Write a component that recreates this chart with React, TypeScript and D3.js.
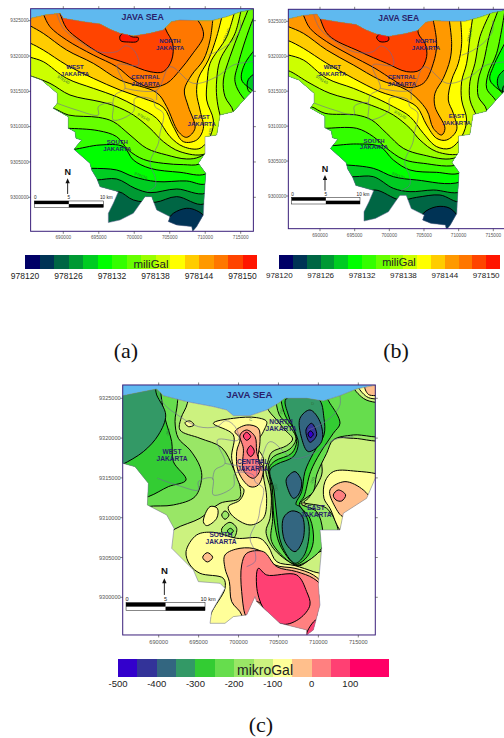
import React from 'react';
import * as d3 from 'd3';

type Pt = [number, number];

// colour ramps, lowest value first
const miliGalColors = ['#000066', '#003355', '#006644', '#009933', '#00cc22', '#00ff00', '#33ff00', '#66ff00', '#99ff00', '#ccff00', '#ffff00', '#ffcc00', '#ff9900', '#ff7700', '#ff4400', '#ff1500'];
const miliGalValues = d3.range(978120, 978152, 2);
const miliGalTicks = [978120, 978126, 978132, 978138, 978144, 978150];
const mikroGalColors = ['#3300cc', '#333399', '#336680', '#339966', '#33cc33', '#66dd4d', '#99e666', '#ccf27f', '#ffff99', '#ffbf8c', '#ff8080', '#ff4073', '#ff0066', '#ff0066'];
const mikroGalValues = d3.range(-500, 200, 50);
const mikroGalTicks = [-500, -400, -300, -200, -100, 0, 100];

const eastings = [690000, 695000, 700000, 705000, 710000, 715000];
const northings = [9325000, 9320000, 9315000, 9310000, 9305000, 9300000];

// All outlines below are readings off the printed maps, in sheet units (3 per page pixel).
const coastA: Pt[] = [[60, 58], [92, 55], [135, 45], [180, 40], [190, 55], [250, 65], [300, 72], [330, 88], [360, 100], [400, 108], [450, 100], [490, 90], [515, 65], [540, 60], [590, 62], [635, 62], [680, 50], [720, 36], [800, 20]];
const southA: Pt[] = [[800, 270], [760, 270], [740, 290], [700, 335], [660, 345], [650, 405], [615, 410], [615, 460], [595, 490], [617, 520], [612, 600], [610, 645], [590, 680], [578, 694], [575, 680], [530, 675], [505, 665], [510, 650], [470, 630], [455, 590], [435, 590], [400, 640], [360, 660], [325, 668], [325, 640], [340, 610], [355, 575], [300, 560], [290, 535], [275, 510], [270, 490], [222, 448], [245, 420], [228, 415], [225, 395], [205, 385], [205, 350], [160, 325], [172, 310], [172, 280], [125, 240], [92, 228], [60, 222]];
const districtsA: Pt[][] = [
  [[170, 40], [190, 85], [240, 125], [295, 155], [350, 155], [378, 137], [405, 155], [415, 195], [352, 195], [375, 265], [345, 285], [338, 315]],
  [[172, 310], [230, 330], [295, 345], [295, 320], [338, 310], [340, 360], [400, 335], [405, 295], [460, 300], [465, 320], [490, 340], [480, 400], [475, 430], [450, 490], [465, 530], [465, 560], [440, 575]],
  [[375, 265], [470, 270], [510, 200], [580, 250], [650, 230], [700, 195], [760, 185]],
  [[470, 270], [470, 300]],
  [[625, 165], [660, 150], [700, 120], [720, 90], [720, 60]],
];

const coastC: Pt[] = [[40, 62], [68, 62], [120, 52], [170, 42], [190, 62], [260, 80], [340, 95], [380, 105], [400, 122], [450, 122], [500, 105], [535, 85], [555, 70], [620, 70], [670, 78], [720, 62], [770, 42], [860, 24]];
const southC: Pt[] = [[860, 310], [826, 310], [800, 370], [730, 415], [720, 465], [660, 465], [665, 520], [655, 630], [660, 690], [640, 765], [620, 780], [620, 765], [540, 745], [470, 680], [465, 665], [440, 720], [400, 725], [375, 745], [330, 745], [335, 710], [375, 640], [360, 625], [295, 620], [280, 585], [215, 520], [222, 460], [200, 420], [142, 390], [145, 325], [105, 275], [68, 265], [40, 258]];

// panel (a): contours from south to north, each one closed over the top of the sheet
const contoursA: Pt[][] = [
  [[290, 590], [355, 575], [400, 600], [465, 607], [530, 590], [612, 612], [700, 500], [790, 300]],
  [[250, 540], [290, 540], [350, 537], [405, 565], [450, 578], [530, 567], [617, 580], [700, 500], [790, 300]],
  [[240, 505], [275, 505], [350, 510], [400, 530], [470, 545], [560, 543], [617, 552], [700, 480], [790, 300], [745, 272], [745, 238], [790, 205]],
  [[200, 448], [222, 448], [300, 435], [370, 440], [400, 480], [450, 505], [540, 517], [617, 522], [690, 450], [790, 320], [760, 275], [725, 240], [735, 190], [790, 120]],
  [[180, 385], [205, 385], [295, 392], [350, 410], [385, 450], [430, 478], [490, 490], [550, 494], [600, 492], [690, 430], [780, 330], [735, 300], [705, 245], [715, 190], [750, 80], [775, 20]],
  [[135, 325], [160, 325], [205, 345], [295, 352], [340, 365], [390, 405], [440, 445], [500, 465], [560, 477], [600, 470], [690, 400], [700, 335], [675, 290], [670, 240], [690, 170], [720, 90], [748, 20]],
  [[70, 222], [92, 228], [150, 250], [210, 285], [300, 305], [345, 318], [400, 345], [450, 385], [490, 425], [540, 455], [615, 462], [680, 400], [660, 345], [650, 290], [650, 240], [660, 180], [705, 100], [725, 20]],
  [[70, 165], [92, 172], [130, 185], [200, 235], [280, 265], [350, 290], [410, 320], [470, 355], [510, 410], [550, 440], [600, 445], [632, 405], [640, 360], [620, 300], [622, 240], [630, 190], [680, 110], [705, 30]],
  [[70, 122], [92, 130], [130, 150], [200, 195], [280, 235], [360, 270], [430, 295], [490, 322], [520, 380], [550, 425], [590, 420], [610, 385], [600, 330], [590, 280], [595, 235], [625, 180], [650, 110], [668, 40]],
  [[70, 65], [92, 78], [130, 100], [200, 150], [280, 190], [360, 240], [470, 278], [500, 320], [535, 395], [560, 412], [585, 385], [565, 320], [553, 270], [575, 225], [610, 180], [630, 120], [640, 40]],
  [[120, 20], [130, 42], [150, 80], [200, 120], [280, 165], [350, 200], [400, 240], [450, 262], [500, 250], [540, 210], [575, 165], [610, 110], [605, 80], [585, 50]],
  [[175, 25], [180, 40], [200, 85], [240, 120], [310, 165], [380, 190], [450, 215], [490, 215], [515, 180], [518, 130], [498, 90], [490, 60]],
];
const lowPatchA: Pt[] = [[500, 665], [520, 640], [560, 625], [590, 632], [612, 650], [605, 690], [540, 710], [490, 690]];
const highPatchA: Pt[] = [[360, 108], [375, 97], [395, 110], [415, 113], [412, 124], [385, 126], [362, 122]];

// panel (b), own sheet
const contoursB: Pt[][] = [
  [[290, 590], [345, 570], [420, 600], [470, 592], [540, 585], [605, 605], [700, 500], [790, 330], [745, 310], [740, 270], [790, 240]],
  [[240, 530], [285, 530], [340, 530], [400, 565], [450, 575], [520, 570], [605, 575], [700, 480], [790, 310], [735, 300], [730, 260], [790, 225]],
  [[230, 495], [258, 495], [340, 505], [400, 530], [470, 540], [603, 545], [700, 450], [790, 290], [720, 270], [715, 230], [790, 170]],
  [[190, 437], [215, 437], [290, 432], [360, 440], [400, 480], [450, 510], [530, 517], [603, 518], [700, 420], [740, 300], [690, 240], [700, 200], [750, 100], [790, 20]],
  [[170, 385], [195, 385], [290, 385], [340, 410], [380, 445], [430, 478], [490, 490], [600, 492], [690, 400], [710, 310], [680, 265], [685, 220], [710, 160], [735, 30]],
  [[130, 320], [153, 320], [195, 340], [290, 345], [335, 360], [380, 400], [430, 445], [490, 465], [580, 475], [660, 420], [680, 330], [655, 290], [655, 240], [670, 190], [690, 100], [715, 30]],
  [[60, 208], [85, 212], [150, 250], [210, 280], [300, 305], [345, 320], [400, 345], [450, 385], [480, 420], [530, 455], [605, 460], [660, 405], [650, 350], [630, 300], [630, 245], [645, 190], [660, 110], [690, 40]],
  [[60, 160], [85, 165], [130, 180], [200, 235], [280, 265], [350, 295], [400, 320], [450, 350], [490, 400], [530, 440], [570, 445], [605, 410], [620, 360], [605, 300], [605, 245], [620, 190], [630, 110], [640, 40]],
  [[60, 115], [85, 122], [130, 145], [200, 190], [280, 235], [360, 275], [420, 295], [470, 320], [500, 375], [530, 415], [560, 420], [590, 390], [580, 340], [565, 300], [575, 240], [595, 190], [605, 130], [600, 40]],
  [[60, 70], [85, 80], [130, 100], [200, 150], [280, 195], [360, 240], [440, 270], [500, 330], [520, 385], [545, 405], [555, 385], [525, 320], [525, 280], [550, 235], [570, 180], [575, 130], [565, 40]],
  [[120, 20], [130, 45], [150, 85], [200, 125], [270, 165], [345, 205], [400, 240], [440, 262], [490, 250], [520, 190], [530, 130], [515, 40]],
  [[165, 25], [175, 42], [205, 105], [300, 155], [380, 190], [440, 215], [480, 210], [500, 170], [495, 130], [475, 100], [478, 50]],
];
const lowPatchB: Pt[] = [[490, 640], [530, 620], [570, 625], [595, 655], [590, 690], [520, 700], [480, 670]];
const highPatchB: Pt[] = [[350, 112], [365, 100], [385, 110], [385, 122], [360, 125]];

// panel (c): closed regions, painted in this order over the base value (-150)
const regionsC: { value: number; pts: Pt[] }[] = [
  // west side
  { value: -200, pts: [[40, 20], [262, 20], [262, 85], [243, 130], [240, 165], [300, 190], [365, 218], [400, 280], [420, 335], [418, 370], [360, 385], [300, 430], [225, 462], [180, 500], [40, 500]] },
  { value: -250, pts: [[40, 20], [230, 20], [232, 85], [225, 140], [235, 190], [270, 225], [300, 275], [305, 310], [285, 365], [220, 390], [140, 395], [40, 420]] },
  { value: -300, pts: [[40, 20], [180, 20], [183, 60], [195, 130], [215, 200], [220, 260], [258, 315], [205, 335], [145, 365], [40, 390]] },
  { value: -350, pts: [[40, 20], [160, 30], [170, 60], [197, 120], [175, 180], [130, 230], [68, 268], [40, 280]] },
  { value: -100, pts: [[255, 143], [270, 138], [282, 150], [265, 155]] },
  // central high
  { value: -100, pts: [[340, 145], [400, 130], [470, 128], [500, 140], [490, 170], [470, 210], [490, 250], [490, 300], [500, 370], [490, 430], [450, 450], [395, 420], [385, 395], [420, 375], [432, 345], [420, 330], [395, 250], [400, 180]] },
  { value: -50, pts: [[405, 170], [440, 150], [475, 160], [480, 200], [475, 250], [490, 280], [475, 330], [450, 335], [415, 290], [410, 230], [420, 190]] },
  { value: 0, pts: [[420, 180], [440, 165], [465, 185], [470, 230], [480, 285], [460, 310], [430, 285], [430, 220]] },
  { value: 50, pts: [[430, 183], [440, 172], [452, 185], [440, 196]] },
  { value: 50, pts: [[452, 212], [463, 230], [452, 245], [441, 230]] },
  // east side low, outer band first
  { value: -200, pts: [[500, 95], [530, 135], [555, 165], [578, 192], [560, 212], [515, 232], [503, 262], [497, 285], [513, 350], [510, 430], [498, 470], [520, 520], [575, 565], [600, 572], [660, 530], [700, 520], [715, 470], [680, 400], [612, 382], [625, 370], [665, 300], [665, 265], [660, 225], [690, 190], [760, 190], [860, 190], [860, 20], [500, 20]] },
  { value: -250, pts: [[528, 60], [538, 120], [565, 150], [588, 190], [570, 222], [520, 245], [505, 272], [512, 330], [518, 430], [515, 500], [575, 565], [598, 570], [665, 520], [668, 465], [650, 410], [603, 385], [640, 350], [650, 300], [680, 235], [700, 195], [760, 180], [860, 178], [860, 20], [540, 20]] },
  { value: -300, pts: [[548, 60], [555, 120], [580, 160], [590, 200], [575, 235], [525, 258], [508, 278], [517, 340], [522, 430], [540, 510], [582, 567], [592, 568], [622, 545], [640, 500], [630, 430], [598, 388], [612, 365], [632, 290], [660, 235], [700, 175], [720, 145], [690, 85], [670, 60]] },
  { value: -350, pts: [[558, 72], [565, 120], [585, 170], [595, 205], [580, 245], [530, 268], [510, 285], [522, 345], [530, 420], [545, 510], [585, 565], [610, 545], [625, 500], [625, 440], [600, 395], [588, 388], [605, 350], [615, 290], [640, 235], [672, 180], [672, 130], [655, 72]] },
  { value: -400, pts: [[600, 130], [630, 105], [660, 140], [665, 200], [625, 230], [605, 190]] },
  { value: -400, pts: [[560, 310], [585, 290], [605, 320], [595, 360], [580, 370], [560, 330]] },
  { value: -400, pts: [[550, 430], [575, 408], [605, 420], [610, 490], [585, 530], [555, 500]] },
  { value: -450, pts: [[618, 165], [635, 145], [650, 180], [630, 202]] },
  { value: -500, pts: [[624, 177], [632, 168], [640, 178], [631, 188]] },
  { value: -100, pts: [[604, 386], [612, 384], [618, 388], [610, 391]] },
  { value: -100, pts: [[860, 312], [760, 288], [700, 290], [675, 320], [672, 370], [690, 400], [725, 470], [770, 480], [860, 400]] },
  { value: -50, pts: [[690, 345], [735, 320], [790, 345], [810, 375], [760, 400], [730, 425], [705, 395]] },
  { value: 0, pts: [[700, 360], [715, 345], [737, 360], [725, 378], [708, 375]] },
  // north-east corner
  { value: -150, pts: [[760, 30], [790, 70], [826, 82], [860, 82], [860, 10]] },
  { value: -100, pts: [[775, 30], [800, 65], [826, 72], [860, 72], [860, 10]] },
  { value: -50, pts: [[795, 30], [805, 58], [826, 62], [860, 60], [860, 10]] },
  // south-west patches
  { value: -100, pts: [[310, 440], [330, 395], [352, 400], [350, 430], [320, 452]] },
  { value: -200, pts: [[365, 420], [375, 408], [387, 420], [375, 433]] },
  { value: -200, pts: [[365, 462], [390, 442], [410, 460], [400, 490], [370, 480]] },
  { value: -250, pts: [[382, 468], [391, 460], [400, 468], [391, 477]] },
  // south high
  { value: -100, pts: [[258, 530], [290, 480], [340, 472], [410, 490], [480, 490], [505, 515], [530, 560], [585, 572], [640, 590], [668, 600], [668, 630], [650, 700], [660, 790], [500, 800], [330, 770], [332, 720], [375, 640], [370, 610], [300, 595], [270, 570]] },
  { value: -50, pts: [[308, 547], [322, 533], [338, 547], [322, 561]] },
  { value: -50, pts: [[375, 540], [420, 520], [475, 525], [525, 570], [585, 580], [640, 600], [668, 630], [670, 800], [420, 800], [425, 720], [395, 680], [388, 620], [375, 580]] },
  { value: 0, pts: [[425, 570], [440, 535], [490, 530], [530, 575], [590, 590], [640, 610], [665, 635], [670, 700], [670, 790], [620, 790], [540, 760], [470, 680], [440, 725], [425, 650]] },
  { value: 50, pts: [[475, 580], [500, 600], [590, 600], [620, 650], [630, 690], [600, 730], [550, 748], [500, 715], [472, 650]] },
  { value: 50, pts: [[620, 778], [648, 735], [658, 745], [632, 785]] },
];

const places = [
  { name: ['NORTH', 'JAKARTA'], a: [510, 125], b: [498, 125], c: [543, 142] },
  { name: ['WEST', 'JAKARTA'], a: [225, 203], b: [217, 203], c: [216, 230] },
  { name: ['CENTRAL', 'JAKARTA'], a: [437, 233], b: [426, 232], c: [458, 261] },
  { name: ['EAST', 'JAKARTA'], a: [605, 353], b: [590, 350], c: [648, 398] },
  { name: ['SOUTH', 'JAKARTA'], a: [352, 428], b: [342, 423], c: [363, 481] },
];
const isoLabelsA = [
  { text: '978140', at: [190, 240], rot: 32 }, { text: '978140', at: [430, 352], rot: 30 },
  { text: '978130', at: [422, 528], rot: 22 }, { text: '978140', at: [680, 105], rot: -68 },
  { text: '978', at: [632, 395], rot: -80 },
];
const isoLabelsB = [
  { text: '978140', at: [185, 240], rot: 32 }, { text: '978140', at: [420, 345], rot: 30 },
  { text: '978130', at: [415, 528], rot: 22 }, { text: '978140', at: [630, 105], rot: -80 },
];
const isoLabelsC = [
  { text: '-260', at: [205, 172], rot: -80 }, { text: '-260', at: [545, 110], rot: -80 },
  { text: '-260', at: [527, 335], rot: 80 }, { text: '-260', at: [638, 318], rot: -70 },
  { text: '-260', at: [615, 545], rot: -40 }, { text: 'C', at: [452, 135], rot: 0 }, { text: 'D', at: [638, 87], rot: 0 },
];

const curveOpen = d3.line<Pt>().curve(d3.curveCatmullRom.alpha(0.5));
const curveLoop = d3.line<Pt>().curve(d3.curveCatmullRomClosed.alpha(0.5));
const straight = d3.line<Pt>();

const INK = '#2a1f6b';
const FRAME = '#3a1f7a';
const SANS = '"Liberation Sans", Arial, sans-serif';
const CONTOUR_WIDTH = 1;

interface MapProps {
  id: string;
  sheetX: [number, number];
  sheetY: [number, number];
  pxX: [number, number];
  pxY: [number, number];
  frame: [number, number, number, number];
  coast: Pt[];
  south: Pt[];
  outlineToSheet?: (p: Pt) => Pt;
  tickSize: number;
  seaLabel: { at: number[]; size: number };
  north: { x: number; top: number; bottom: number; labelY: number };
  bar: { x0: number; x1: number; y0: number; y1: number; labelY: number };
  placeKey: 'a' | 'b' | 'c';
  placeSize: number;
  isoLabels: { text: string; at: number[]; rot: number }[];
  children: (proj: (p: Pt) => Pt) => React.ReactNode;
}

function GravityMap(props: MapProps) {
  const { id, sheetX, sheetY, pxX, pxY, frame } = props;
  const toEast = d3.scaleLinear().domain(sheetX).range([690000, 715000]);
  const toNorth = d3.scaleLinear().domain(sheetY).range([9325000, 9300000]);
  const x = d3.scaleLinear().domain([690000, 715000]).range(pxX);
  const y = d3.scaleLinear().domain([9325000, 9300000]).range(pxY);
  const proj = (p: Pt): Pt => [x(toEast(p[0])), y(toNorth(p[1]))];
  const outlineProj = props.outlineToSheet ? (p: Pt) => proj(props.outlineToSheet!(p)) : proj;

  const [fx0, fy0, fx1, fy1] = frame;
  const [l, t] = proj([fx0, fy0]);
  const [r, b] = proj([fx1, fy1]);
  const coast = props.coast.map(outlineProj);
  const land = [...coast, ...props.south.map(outlineProj)];
  const sea = [...coast, [r + 20, t - 20] as Pt, [l - 20, t - 20] as Pt];

  const landPath = straight(land)! + 'Z';
  const barMid = (props.bar.x0 + props.bar.x1) / 2;
  const [barL, barT] = proj([props.bar.x0, props.bar.y0]);
  const [barM, barB] = proj([barMid, props.bar.y1]);
  const [barR] = proj([props.bar.x1, props.bar.y1]);
  const barH = barB - barT;
  const labY = proj([0, props.bar.labelY])[1];
  const [nx, ntop] = proj([props.north.x, props.north.top]);
  const nbot = proj([props.north.x, props.north.bottom])[1];
  const nlab = proj([props.north.x, props.north.labelY])[1];
  const seaAt = proj(props.seaLabel.at as Pt);

  return (
    <g fontFamily={SANS}>
      <defs>
        <clipPath id={`${id}-land`}><path d={landPath} /></clipPath>
        <clipPath id={`${id}-frame`}><rect x={l} y={t} width={r - l} height={b - t} /></clipPath>
      </defs>
      <g clipPath={`url(#${id}-frame)`}>
        <path d={straight(sea as Pt[])! + 'Z'} fill="#5fb9ef" />
        <g clipPath={`url(#${id}-land)`}>
          {props.children(proj)}
          {districtsA.map((d, i) => (
            <path key={i} d={curveOpen(d.map(outlineProj))!} fill="none" stroke="#6f6a9a" strokeWidth={0.6} />
          ))}
        </g>
        <path d={landPath} fill="none" stroke="#6f6a9a" strokeWidth={0.5} />
      </g>
      <rect x={l} y={t} width={r - l} height={b - t} fill="none" stroke={FRAME} strokeWidth={1} />

      {eastings.map(e => (
        <g key={e}>
          <line x1={x(e)} x2={x(e)} y1={t - 2.5} y2={t} stroke="#333" strokeWidth={0.6} />
          <line x1={x(e)} x2={x(e)} y1={b} y2={b + 2.5} stroke="#333" strokeWidth={0.6} />
          <text x={x(e)} y={b + props.tickSize + 3.2} fontSize={props.tickSize} textAnchor="middle" fill="#555">{e}</text>
        </g>
      ))}
      {northings.map(n => (
        <g key={n}>
          <line x1={l - 2.5} x2={l} y1={y(n)} y2={y(n)} stroke="#333" strokeWidth={0.6} />
          <line x1={r} x2={r + 2.5} y1={y(n)} y2={y(n)} stroke="#333" strokeWidth={0.6} />
          <text x={l - 2} y={y(n) + props.tickSize * 0.36} fontSize={props.tickSize} textAnchor="end" fill="#555">{n}</text>
        </g>
      ))}

      <text x={seaAt[0]} y={seaAt[1]} fontSize={props.seaLabel.size} fontWeight="bold" fill={INK} textAnchor="middle" dominantBaseline="middle">JAVA SEA</text>
      {places.map(p => {
        const at = proj(p[props.placeKey] as Pt);
        return (
          <text key={p.name[0]} x={at[0]} y={at[1]} fontSize={props.placeSize} fontWeight="bold" fill={INK} textAnchor="middle">
            {p.name.map((s, i) => <tspan key={s} x={at[0]} dy={i === 0 ? props.placeSize * 0.3 : props.placeSize * 1.08}>{s}</tspan>)}
          </text>
        );
      })}
      {props.isoLabels.map((lab, i) => {
        const at = proj(lab.at as Pt);
        return (
          <text key={i} transform={`translate(${at[0]},${at[1]}) rotate(${lab.rot})`} fontSize={4} textAnchor="middle" dominantBaseline="middle" fill="#2f6f3f">{lab.text}</text>
        );
      })}

      <text x={nx} y={nlab} fontSize={props.placeSize + 3} fontWeight="bold" textAnchor="middle" dominantBaseline="middle" fill="#111">N</text>
      <line x1={nx} x2={nx} y1={nbot} y2={ntop + 3} stroke="#111" strokeWidth={0.9} />
      <path d={`M${nx},${ntop}L${nx - 2.2},${ntop + 5}L${nx + 2.2},${ntop + 5}Z`} fill="#111" />

      <rect x={barL} y={barT} width={barR - barL} height={barH} fill="#fff" stroke="#111" strokeWidth={0.5} />
      <rect x={barL} y={barT} width={barM - barL} height={barH / 2} fill="#000" />
      <rect x={barM} y={barT + barH / 2} width={barR - barM} height={barH / 2} fill="#000" />
      <text x={barL + 1} y={labY} fontSize={props.tickSize} textAnchor="middle" fill="#222">0</text>
      <text x={barM} y={labY} fontSize={props.tickSize} textAnchor="middle" fill="#222">5</text>
      <text x={barR + 3} y={labY} fontSize={props.tickSize} textAnchor="middle" fill="#222">10 km</text>
    </g>
  );
}

function ContourFill({ proj, contours, base, low, high }: { proj: (p: Pt) => Pt; contours: Pt[][]; base: string; low: Pt[]; high: Pt[] }) {
  // the twelve open contours start from the band above the base colour
  const bandColors = miliGalColors.slice(3, 15);
  const closeOver = (pts: Pt[]) => {
    const cap = [[800, -20], [40, -20], [40, pts[0][1]]].map(p => proj(p as Pt).join(','));
    return curveOpen(pts.map(proj))! + 'L' + cap.join('L') + 'Z';
  };
  return (
    <g>
      <rect x={0} y={0} width={504} height={300} fill={base} />
      {contours.map((c, i) => <path key={i} d={closeOver(c)} fill={bandColors[i]} />)}
      <path d={curveLoop(low.map(proj))!} fill={miliGalColors[1]} stroke="#000" strokeWidth={CONTOUR_WIDTH} />
      {contours.map((c, i) => <path key={i} d={curveOpen(c.map(proj))!} fill="none" stroke="#000" strokeWidth={CONTOUR_WIDTH} />)}
      <path d={curveLoop(high.map(proj))!} fill={miliGalColors[15]} stroke="#000" strokeWidth={CONTOUR_WIDTH} />
    </g>
  );
}

function Legend({ values, colors, ticks, step, range, top, height, title, titleX, titleY, titleSize, labelY, labelSize }: {
  values: number[]; colors: string[]; ticks: number[]; step: number; range: [number, number]; top: number; height: number;
  title: string; titleX: number; titleY: number; titleSize: number; labelY: number; labelSize: number;
}) {
  const sc = d3.scaleLinear().domain([values[0], values[values.length - 1] + step]).range(range);
  return (
    <g fontFamily={SANS}>
      {values.map((v, i) => (
        <rect key={v} x={sc(v)} y={top} width={sc(v + step) - sc(v)} height={height} fill={colors[i]} shapeRendering="crispEdges" />
      ))}
      <text x={titleX} y={titleY} fontSize={titleSize} textAnchor="middle" fill="#222">{title}</text>
      {ticks.map(t => (
        <text key={t} x={sc(t)} y={labelY} fontSize={labelSize} textAnchor="middle" fill="#222">{t}</text>
      ))}
    </g>
  );
}

// panel (b) reuses the outline read on the sheet of panel (a)
const aToB = (p: Pt): Pt => [180 + (p[0] - 190) * (520 / 532), 64 + (p[1] - 62) * (524 / 530)];

export default function App() {
  const mikroColor = d3.scaleOrdinal<number, string>().domain(mikroGalValues).range(mikroGalColors);
  return (
    <svg width={504} height={738} viewBox="0 0 504 738" style={{ position: 'absolute', left: 0, top: 0, background: '#fff' }}>
      <GravityMap
        id="a" sheetX={[190, 722]} sheetY={[62, 592]} pxX={[63.3, 240.7]} pxY={[20.7, 197.3]}
        frame={[92, 26, 760, 694]} coast={coastA} south={southA} tickSize={4.7}
        seaLabel={{ at: [428, 54], size: 8.8 }}
        north={{ x: 203, top: 535, bottom: 582, labelY: 518 }}
        bar={{ x0: 103, x1: 310, y0: 603, y1: 622, labelY: 598 }}
        placeKey="a" placeSize={6} isoLabels={isoLabelsA}
      >
        {proj => <ContourFill proj={proj} contours={contoursA} base={miliGalColors[2]} low={lowPatchA} high={highPatchA} />}
      </GravityMap>
      <Legend values={miliGalValues} colors={miliGalColors} ticks={miliGalTicks} step={2} range={[25, 257]} top={255} height={14}
        title="miliGal" titleX={151} titleY={267.5} titleSize={11.5} labelY={279} labelSize={8.5} />

      <GravityMap
        id="b" sheetX={[180, 700]} sheetY={[64, 588]} pxX={[320, 493.3]} pxY={[21.3, 196]}
        frame={[85, 28, 745, 686]} coast={coastA} south={southA} outlineToSheet={aToB} tickSize={4.7}
        seaLabel={{ at: [416, 56], size: 8.5 }}
        north={{ x: 195, top: 525, bottom: 572, labelY: 508 }}
        bar={{ x0: 95, x1: 300, y0: 592, y1: 612, labelY: 588 }}
        placeKey="b" placeSize={6} isoLabels={isoLabelsB}
      >
        {proj => <ContourFill proj={proj} contours={contoursB} base={miliGalColors[2]} low={lowPatchB} high={highPatchB} />}
      </GravityMap>
      <Legend values={miliGalValues} colors={miliGalColors} ticks={miliGalTicks} step={2} range={[279.3, 500]} top={255} height={13.5}
        title="miliGal" titleX={399} titleY={266} titleSize={11} labelY={278} labelSize={8} />

      <GravityMap
        id="c" sheetX={[176, 775]} sheetY={[70, 667]} pxX={[158.7, 358.3]} pxY={[398.3, 597.3]}
        frame={[68, 30, 826, 780]} coast={coastC} south={southC} tickSize={5.6}
        seaLabel={{ at: [448, 62], size: 9.6 }}
        north={{ x: 193, top: 610, bottom: 660, labelY: 590 }}
        bar={{ x0: 78, x1: 315, y0: 683, y1: 707, labelY: 678 }}
        placeKey="c" placeSize={6.6} isoLabels={isoLabelsC}
      >
        {proj => (
          <g>
            <rect x={100} y={380} width={300} height={270} fill={mikroColor(-150)} />
            {regionsC.map((r, i) => (
              <path key={i} d={curveLoop(r.pts.map(proj))!} fill={mikroColor(r.value)} stroke="#000" strokeWidth={CONTOUR_WIDTH} />
            ))}
          </g>
        )}
      </GravityMap>
      <Legend values={mikroGalValues} colors={mikroGalColors} ticks={mikroGalTicks} step={50} range={[118, 389]} top={659} height={18}
        title="mikroGal" titleX={265} titleY={675} titleSize={14} labelY={687} labelSize={9.5} />

      <g fontFamily='"Liberation Serif", "Times New Roman", serif' fontSize={22} fill="#111" textAnchor="middle">
        <text x={126} y={358}>(a)</text>
        <text x={396} y={358}>(b)</text>
        <text x={261} y={732}>(c)</text>
      </g>
    </svg>
  );
}
